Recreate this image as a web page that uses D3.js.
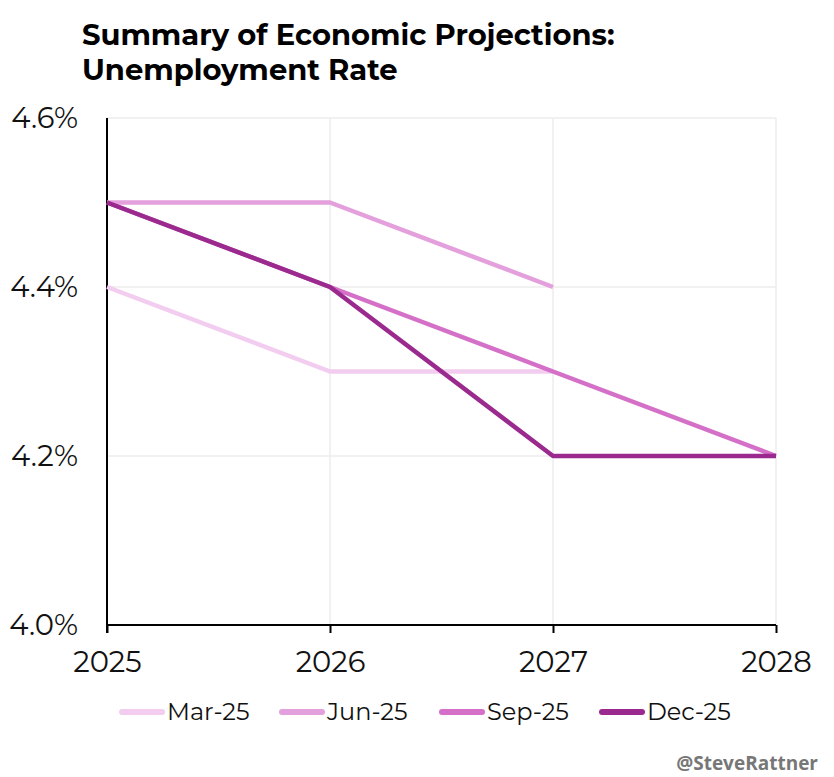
<!DOCTYPE html>
<html><head><meta charset="utf-8">
<script src="https://cdn.jsdelivr.net/npm/d3@7/dist/d3.min.js"></script>
<style>body{margin:0;background:#fff}svg{display:block}</style>
</head><body>
<script>
const years = [2025, 2026, 2027, 2028];
const seriesNames = ["Mar-25", "Jun-25", "Sep-25", "Dec-25"];
const mar25 = [4.4, 4.3, 4.3];
const jun25 = [4.5, 4.5, 4.4];
const sep25 = [4.5, 4.4, 4.3, 4.2];
const dec25 = [4.5, 4.4, 4.2, 4.2];
const yTicks = [4.0, 4.2, 4.4, 4.6];
const colors = ["#f2cdef", "#e4a0dc", "#d470c8", "#9b2a8f"];
const seriesValues = [mar25, jun25, sep25, dec25];

const W = 834, H = 777;
const svg = d3.select("body").append("svg").attr("width", W).attr("height", H);
const font = "Montserrat, 'Open Sans', Lato, sans-serif";

const x = d3.scaleLinear().domain([2025, 2028]).range([107, 776]);
const y = d3.scaleLinear().domain([4.0, 4.6]).range([625, 118]);

// title
const title = svg.append("text").attr("x", 82).attr("font-family", font)
  .attr("font-weight", 700).attr("font-size", 29).attr("fill", "#000");
title.append("tspan").attr("x", 82).attr("y", 45).text("Summary of Economic Projections:");
title.append("tspan").attr("x", 82).attr("y", 80).text("Unemployment Rate");

// gridlines
svg.append("g").selectAll("line").data(yTicks.filter(d => d > 4.0)).join("line")
  .attr("x1", x(2025)).attr("x2", x(2028)).attr("y1", d => y(d)).attr("y2", d => y(d))
  .attr("stroke", "#ececec").attr("stroke-width", 1.5);
svg.append("g").selectAll("line").data(years.filter(d => d > 2025)).join("line")
  .attr("x1", d => x(d)).attr("x2", d => x(d)).attr("y1", y(4.6)).attr("y2", y(4.0))
  .attr("stroke", "#ececec").attr("stroke-width", 1.5);

// axes
const yAxis = svg.append("g").attr("transform", `translate(${x(2025)},0)`)
  .call(d3.axisLeft(y).tickValues(yTicks).tickSize(0).tickPadding(29).tickFormat(d => d.toFixed(1) + "%"));
yAxis.select(".domain").attr("stroke", "#000").attr("stroke-width", 2).attr("d", `M0,${y(4.6)}V${y(4.0)+8}`);
yAxis.selectAll("text").attr("font-family", font).attr("font-size", 29).attr("fill", "#111");

const xAxis = svg.append("g").attr("transform", `translate(0,${y(4.0)})`)
  .call(d3.axisBottom(x).tickValues(years).tickSize(8).tickPadding(18).tickFormat(d3.format("d")));
xAxis.select(".domain").attr("stroke", "#000").attr("stroke-width", 2).attr("d", `M${x(2025)},0H${x(2028)}`);
xAxis.selectAll(".tick line").attr("stroke", "#000").attr("stroke-width", 2);
xAxis.selectAll("text").attr("font-family", font).attr("font-size", 29).attr("fill", "#111");

// lines
const line = d3.line().x((d, i) => x(years[i])).y(d => y(d));
svg.append("g").selectAll("path").data(seriesValues).join("path")
  .attr("d", d => line(d)).attr("fill", "none")
  .attr("stroke", (d, i) => colors[i]).attr("stroke-width", 4.5)
  .attr("stroke-linejoin", "round");

// legend
const legendX = [122, 282, 442, 602];
const lg = svg.append("g").selectAll("g").data(seriesNames).join("g")
  .attr("transform", (d, i) => `translate(${legendX[i]},712)`);
lg.append("line").attr("x1", 0).attr("x2", 40).attr("y1", 0).attr("y2", 0)
  .attr("stroke", (d, i) => colors[i]).attr("stroke-width", 6).attr("stroke-linecap", "round");
lg.append("text").attr("x", 45).attr("y", 8).attr("font-family", font).attr("font-size", 24)
  .attr("fill", "#111").text(d => d);

// watermark
svg.append("text").attr("x", 818).attr("y", 770).attr("text-anchor", "end")
  .attr("font-family", "'Open Sans', sans-serif").attr("font-weight", 700).attr("font-size", 19)
  .attr("fill", "#777").text("@SteveRattner");
</script>
</body></html>
